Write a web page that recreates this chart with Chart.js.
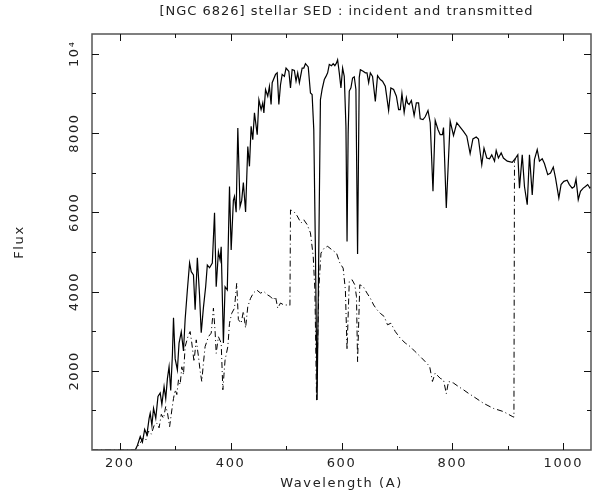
<!DOCTYPE html>
<html>
<head>
<meta charset="utf-8">
<script src="https://cdn.jsdelivr.net/npm/chart.js@4"></script>
<style>
  html, body { margin: 0; padding: 0; background: #fff; }
</style>
</head>
<body>
<canvas id="sedChart" width="605" height="493"></canvas>
<script>
const chartTitle = "[NGC 6826] stellar SED : incident and transmitted";

// incident stellar continuum (solid)
const incidentWave = [150, 228, 232, 237, 241, 245, 249, 253, 255, 258, 261, 265, 269, 273, 276, 280, 283, 286, 289, 292,
  295, 297, 300, 304, 307, 311, 315, 318, 322, 326, 329, 333, 336, 340, 344, 347, 351, 355, 358, 362,
  367, 371, 374, 378, 381, 383, 387, 390, 394, 398, 401, 405, 407, 410, 413, 417, 420, 423, 427, 431,
  434, 437, 440, 443, 448, 451, 455, 458, 460, 463, 467, 470, 473, 475, 481, 484, 487, 490, 493, 497,
  500, 505, 508, 511, 515, 518, 521, 524, 529, 532, 535, 540, 544, 547, 550, 553, 556, 559, 562, 565,
  569, 572, 575, 578, 582, 585, 588, 591, 593, 596, 599, 602, 605, 608, 610, 612, 614, 617, 620, 623,
  626, 629, 632, 634, 639, 643, 646, 649, 652, 656, 661, 665, 670, 674, 679, 685, 689, 694, 699, 703,
  706, 709, 713, 717, 719, 722, 726, 728, 731, 735, 739, 742, 747, 751, 756, 760, 765, 769, 774, 778,
  782, 784, 789, 796, 802, 808, 814, 820, 826, 832, 837, 843, 847, 853, 857, 862, 867, 871, 876, 879,
  883, 888, 892, 899, 908, 914, 918, 921, 926, 930, 935, 939, 944, 948, 953, 957, 962, 966, 972, 977,
  982, 986, 992, 996, 1001, 1007, 1011, 1016, 1020, 1023, 1027, 1031, 1036, 1040, 1044, 1048, 1050];
const incidentFlux = [0, 0, 120, 340, 200, 520, 380, 800, 930, 620, 1050, 800, 1350, 1440, 1150, 1600, 1300, 1800, 2100, 1500,
  2400, 3340, 2300, 2020, 2700, 2980, 2500, 3300, 4040, 4720, 4500, 4420, 3540, 4850, 3900, 2960, 3600, 4120, 4670, 4600,
  4720, 5990, 4120, 5000, 4800, 5130, 2700, 4120, 4040, 6650, 5050, 6300, 6400, 6000, 8130, 6140, 6300, 6750, 6010, 7660,
  7160, 8170, 7830, 8510, 7960, 8840, 8590, 8760, 8510, 9100, 8930, 9180, 8720, 9270, 9480, 9520, 8720, 9220, 9480, 9430,
  9640, 9560, 9140, 9600, 9580, 9310, 9520, 9270, 9640, 9640, 9750, 9670, 9010, 8970, 8090, 5000, 1260, 5000, 8840, 9100,
  9350, 9430, 9520, 9730, 9700, 9750, 9700, 9770, 9850, 9520, 9140, 9640, 9430, 8170, 5260, 8000, 9060, 9140, 9390, 9420,
  9100, 4950, 9400, 9600, 9560, 9520, 9520, 9270, 9520, 9430, 8800, 9450, 9350, 9310, 9180, 8570, 9140, 9100, 8930, 8590,
  8590, 9000, 8520, 8890, 8760, 8720, 8820, 8680, 8440, 8760, 8760, 8360, 8340, 8410, 8570, 8260, 6530, 8320, 8090, 7960,
  7960, 8140, 6110, 8300, 7940, 8260, 8150, 8040, 7920, 7480, 7850, 7900, 7850, 7200, 7620, 7370, 7350, 7450, 7290, 7560,
  7370, 7500, 7370, 7290, 7260, 7370, 7450, 6610, 7450, 6650, 6190, 7450, 6440, 7330, 7580, 7290, 7350, 7230, 6950, 6990,
  7140, 6870, 6360, 6700, 6780, 6810, 6700, 6610, 6650, 6840, 6320, 6530, 6610, 6650, 6700, 6610, 6640];

// transmitted continuum (dash-dot)
const transWave = [150, 228, 233, 237, 242, 247, 252, 257, 262, 267, 271, 275, 279, 283, 286, 290, 294, 297, 300, 303,
  306, 309, 312, 315, 318, 323, 327, 330, 334, 338, 342, 345, 348, 351, 354, 360, 365, 369, 372, 374,
  378, 383, 386, 388, 390, 395, 398, 402, 407, 411, 414, 419, 423, 427, 431, 436, 441, 447, 454, 460,
  466, 472, 477, 481, 485, 490, 496, 505, 507, 508, 514, 520, 527, 532, 538, 544, 549, 552, 555, 559,
  563, 569, 575, 583, 591, 597, 603, 607, 610, 614, 619, 624, 627, 629, 633, 639, 646, 652, 658, 664,
  670, 677, 683, 689, 697, 706, 715, 724, 733, 742, 751, 759, 764, 769, 778, 784, 789, 793, 802, 811,
  820, 829, 838, 856, 874, 892, 909, 911, 912, 914];
const transFlux = [0, 0, 100, 170, 300, 250, 480, 400, 620, 680, 560, 900, 800, 1100, 950, 590, 1010, 1300, 1520, 1400,
  1770, 1650, 2100, 1900, 2610, 2860, 2990, 2700, 2230, 2780, 2360, 2000, 1730, 2200, 2610, 2860, 2950, 3580, 3000, 2440,
  2860, 2700, 1520, 1900, 2270, 2610, 3200, 3450, 3580, 4210, 3290, 3200, 3500, 3080, 3620, 3830, 3960, 4040, 3960, 4000,
  3920, 3870, 3790, 3870, 3580, 3710, 3660, 3660, 3650, 6060, 6020, 5910, 5730, 5810, 5690, 5480, 4890, 4040, 1260, 4040,
  4970, 5100, 5140, 5050, 4970, 4720, 4590, 4040, 2530, 4250, 4300, 4170, 3870, 2230, 4170, 4130, 3960, 3830, 3660, 3540,
  3450, 3370, 3160, 3200, 2990, 2820, 2700, 2610, 2480, 2360, 2230, 2110, 1730, 1940, 1810, 1770, 1420, 1730, 1690, 1600,
  1520, 1430, 1350, 1180, 1050, 970, 840, 830, 7280, 7370];

const xTickValues = [200, 400, 600, 800, 1000];
const xMinorValues = [300, 500, 700, 900];
const yTickValues = [2000, 4000, 6000, 8000, 10000];
const yTickLabels = ["2000", "4000", "6000", "8000", "10⁴"];
const yMinorValues = [1000, 3000, 5000, 7000, 9000];

const textFont = { family: "DejaVu Sans", size: 13 };
const textColor = "#222";

function toPoints(xs, ys) {
  return xs.map((x, i) => ({ x, y: ys[i] }));
}

// frame with inward ticks on all four sides, plus the title over the plot box
const framePlugin = {
  id: "sedFrame",
  beforeDraw(chart) {
    chart.ctx.letterSpacing = "1.6px";
  },
  afterDraw(chart) {
    const { ctx, chartArea: a, scales } = chart;
    const xs = scales.x, ys = scales.y;
    ctx.save();
    ctx.strokeStyle = "#555";
    ctx.lineWidth = 1.5;
    ctx.strokeRect(a.left, a.top, a.right - a.left, a.bottom - a.top);

    ctx.strokeStyle = "#111";
    ctx.lineWidth = 1;
    ctx.beginPath();
    const xTicks = (vals, len) => vals.forEach(v => {
      const px = Math.round(xs.getPixelForValue(v)) + 0.5;
      ctx.moveTo(px, a.bottom); ctx.lineTo(px, a.bottom - len);
      ctx.moveTo(px, a.top); ctx.lineTo(px, a.top + len);
    });
    const yTicks = (vals, len) => vals.forEach(v => {
      const py = Math.round(ys.getPixelForValue(v)) + 0.5;
      ctx.moveTo(a.left, py); ctx.lineTo(a.left + len, py);
      ctx.moveTo(a.right, py); ctx.lineTo(a.right - len, py);
    });
    xTicks(xTickValues, 7);
    xTicks(xMinorValues, 4);
    yTicks(yTickValues, 7);
    yTicks(yMinorValues, 4);
    ctx.stroke();

    ctx.fillStyle = textColor;
    ctx.font = "13px 'DejaVu Sans'";
    ctx.letterSpacing = "1px";
    ctx.textAlign = "center";
    ctx.textBaseline = "middle";
    ctx.fillText(chartTitle, (a.left + a.right) / 2 + 5, 12);
    ctx.restore();
  }
};

new Chart(document.getElementById("sedChart"), {
  type: "line",
  data: {
    datasets: [
      {
        label: "incident",
        data: toPoints(incidentWave, incidentFlux),
        borderColor: "#000",
        borderWidth: 1.2,
        pointRadius: 0,
        tension: 0
      },
      {
        label: "transmitted",
        data: toPoints(transWave, transFlux),
        borderColor: "#000",
        borderWidth: 1,
        borderDash: [6, 3, 1, 3],
        pointRadius: 0,
        tension: 0
      }
    ]
  },
  options: {
    responsive: false,
    animation: false,
    layout: { padding: { top: 34, right: 14, left: 0, bottom: 0 } },
    plugins: {
      legend: { display: false },
      tooltip: { enabled: false },
      title: { display: false }
    },
    scales: {
      x: {
        type: "linear",
        min: 150,
        max: 1050,
        grid: { display: false, drawTicks: false },
        border: { display: false },
        afterBuildTicks: s => { s.ticks = xTickValues.map(v => ({ value: v })); },
        afterFit: s => { s.height = 43; },
        ticks: {
          color: textColor,
          font: textFont,
          padding: 6,
          maxRotation: 0,
          callback: v => String(v)
        },
        title: {
          display: true,
          text: "Wavelength (A)",
          color: textColor,
          font: textFont,
          padding: { top: 0, bottom: 2 }
        }
      },
      y: {
        type: "linear",
        min: 0,
        max: 10500,
        grid: { display: false, drawTicks: false },
        border: { display: false },
        afterBuildTicks: s => { s.ticks = yTickValues.map(v => ({ value: v })); },
        afterFit: s => { s.width = 92; },
        ticks: {
          color: textColor,
          font: textFont,
          padding: 1,
          minRotation: 90,
          maxRotation: 90,
          crossAlign: "center",
          callback: v => yTickLabels[yTickValues.indexOf(v)]
        },
        title: {
          display: true,
          text: "Flux",
          color: textColor,
          font: textFont,
          padding: { top: 12, bottom: 0 }
        }
      }
    }
  },
  plugins: [framePlugin]
});
</script>
</body>
</html>
